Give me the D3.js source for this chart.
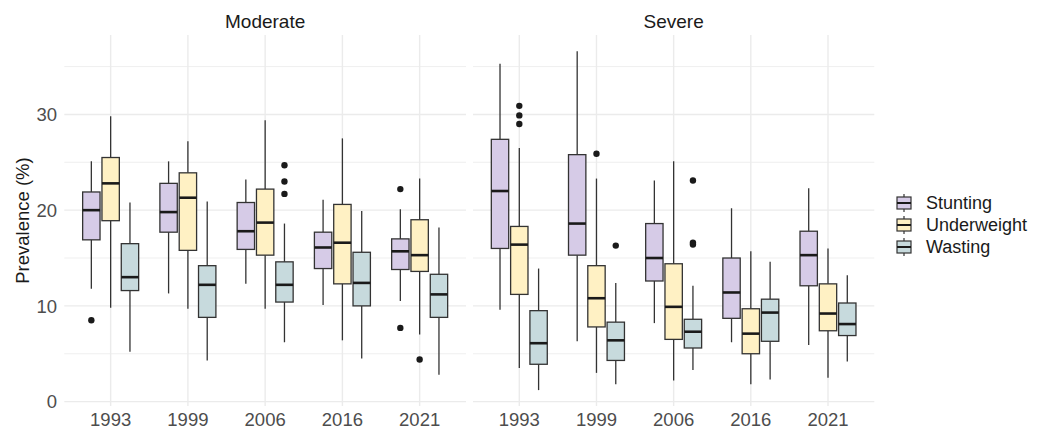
<!DOCTYPE html>
<html>
  <head>
    <title>Prevalence boxplots</title>
    <meta charset="utf-8" />
    <style>
      body { margin: 0; background: #fff; }
    </style>
  </head>
  <body>
    <div id="chart"></div>
    <script src="https://d3js.org/d3.v7.min.js"></script>
    <script type="text/javascript">
        const years = ["1993", "1999", "2006", "2016", "2021"];
        const series = ["Stunting", "Underweight", "Wasting"];
        const panels = ["Moderate", "Severe"];
        const yTicks = [0, 10, 20, 30];
        const yMinor = [5, 15, 25, 35];

        // box stats per year: [lower whisker, q1, median, q3, upper whisker]
        const moderateStunting = [[11.8, 16.9, 20.0, 21.9, 25.1], [11.3, 17.7, 19.8, 22.8, 25.1], [12.3, 15.9, 17.8, 20.8, 23.2], [10.1, 13.9, 16.1, 17.7, 21.1], [10.5, 13.8, 15.7, 17.0, 20.1]];
        const moderateUnderweight = [[9.8, 18.9, 22.8, 25.5, 29.8], [9.7, 15.8, 21.3, 23.9, 27.2], [9.7, 15.3, 18.7, 22.2, 29.4], [6.4, 12.3, 16.6, 20.6, 27.5], [7.0, 13.6, 15.3, 19.0, 23.3]];
        const moderateWasting = [[5.2, 11.6, 13.0, 16.5, 20.8], [4.3, 8.8, 12.2, 14.2, 20.9], [6.2, 10.4, 12.2, 14.6, 18.6], [4.5, 10.0, 12.4, 15.6, 19.9], [2.8, 8.8, 11.2, 13.3, 18.2]];
        const severeStunting = [[9.6, 16.0, 22.0, 27.4, 35.3], [6.3, 15.3, 18.6, 25.8, 36.6], [8.2, 12.6, 15.0, 18.6, 23.1], [6.2, 8.7, 11.4, 15.0, 20.2], [5.9, 12.1, 15.3, 17.8, 22.3]];
        const severeUnderweight = [[3.5, 11.2, 16.4, 18.3, 26.5], [3.0, 7.8, 10.8, 14.2, 23.3], [2.2, 6.5, 9.9, 14.4, 25.1], [1.8, 5.0, 7.1, 9.7, 15.7], [2.5, 7.4, 9.2, 12.3, 16.0]];
        const severeWasting = [[1.2, 3.9, 6.1, 9.5, 13.9], [1.8, 4.3, 6.4, 8.3, 12.4], [3.3, 5.6, 7.3, 8.6, 12.1], [2.3, 6.3, 9.3, 10.7, 14.6], [4.2, 6.9, 8.1, 10.3, 13.2]];

        // outliers per year
        const moderateStuntingOut = [[8.5], [], [], [], [22.2, 7.7]];
        const moderateUnderweightOut = [[], [], [], [], [4.4]];
        const moderateWastingOut = [[], [], [24.7, 23.0, 21.7], [], []];
        const severeStuntingOut = [[], [], [], [], []];
        const severeUnderweightOut = [[30.9, 29.9, 29.0], [25.9], [], [], []];
        const severeWastingOut = [[], [16.3], [23.1, 16.6, 16.4], [], []];

        const colors = ["#d6cbe7", "#fff1c4", "#c7dadd"];

        const width = 1037;
        const height = 430;
        const panelTop = 35, panelBottom = 406;
        const panelX = [[64.3, 466], [473, 874.3]];

        const stats = {
            Moderate: [moderateStunting, moderateUnderweight, moderateWasting],
            Severe: [severeStunting, severeUnderweight, severeWasting]
        };
        const outliers = {
            Moderate: [moderateStuntingOut, moderateUnderweightOut, moderateWastingOut],
            Severe: [severeStuntingOut, severeUnderweightOut, severeWastingOut]
        };

        const y = d3.scaleLinear()
            .domain([-0.46, 38.3])
            .range([panelBottom, panelTop]);

        const color = d3.scaleOrdinal().domain(series).range(colors);

        const svg = d3.select("#chart")
            .append("svg")
            .attr("width", width)
            .attr("height", height)
            .style("font-family", "Liberation Sans, Arial, sans-serif");

        panels.forEach((panel, pi) => {
            const [x0, x1] = panelX[pi];
            const x = d3.scaleBand()
                .domain(years)
                .range([x0, x1])
                .paddingInner(0)
                .paddingOuter(0.1);
            const dodge = d3.scaleBand()
                .domain(series)
                .range([-0.375 * x.step(), 0.375 * x.step()]);
            const boxW = dodge.bandwidth() * 0.9;

            const g = svg.append("g");

            // grid
            g.selectAll(".minor")
                .data(yMinor)
                .join("line")
                .attr("x1", x0).attr("x2", x1)
                .attr("y1", d => y(d)).attr("y2", d => y(d))
                .attr("stroke", "#ebebeb")
                .attr("stroke-width", 0.8);
            g.selectAll(".major")
                .data(yTicks)
                .join("line")
                .attr("x1", x0).attr("x2", x1)
                .attr("y1", d => y(d)).attr("y2", d => y(d))
                .attr("stroke", "#ebebeb")
                .attr("stroke-width", 1.4);
            g.selectAll(".vgrid")
                .data(years)
                .join("line")
                .attr("x1", d => x(d) + x.bandwidth() / 2)
                .attr("x2", d => x(d) + x.bandwidth() / 2)
                .attr("y1", panelTop).attr("y2", panelBottom)
                .attr("stroke", "#ebebeb")
                .attr("stroke-width", 1.4);

            // strip title
            svg.append("text")
                .attr("x", (x0 + x1) / 2)
                .attr("y", 27.5)
                .attr("text-anchor", "middle")
                .attr("font-size", 19)
                .attr("fill", "#1a1a1a")
                .text(panel);

            // x axis labels
            svg.append("g")
                .selectAll("text")
                .data(years)
                .join("text")
                .attr("x", d => x(d) + x.bandwidth() / 2)
                .attr("y", 426)
                .attr("text-anchor", "middle")
                .attr("font-size", 18.5)
                .attr("fill", "#4d4d4d")
                .text(d => d);

            // boxes
            series.forEach((s, si) => {
                const sg = g.append("g");
                years.forEach((yr, yi) => {
                    const [lo, q1, med, q3, hi] = stats[panel][si][yi];
                    const cx = x(yr) + x.bandwidth() / 2 + dodge(s) + dodge.bandwidth() / 2;
                    const bg = sg.append("g");
                    bg.append("line")
                        .attr("x1", cx).attr("x2", cx)
                        .attr("y1", y(hi)).attr("y2", y(q3))
                        .attr("stroke", "#333").attr("stroke-width", 1.3);
                    bg.append("line")
                        .attr("x1", cx).attr("x2", cx)
                        .attr("y1", y(q1)).attr("y2", y(lo))
                        .attr("stroke", "#333").attr("stroke-width", 1.3);
                    bg.append("rect")
                        .attr("x", cx - boxW / 2)
                        .attr("y", y(q3))
                        .attr("width", boxW)
                        .attr("height", y(q1) - y(q3))
                        .attr("fill", color(s))
                        .attr("stroke", "#333")
                        .attr("stroke-width", 1.3);
                    bg.append("line")
                        .attr("x1", cx - boxW / 2).attr("x2", cx + boxW / 2)
                        .attr("y1", y(med)).attr("y2", y(med))
                        .attr("stroke", "#1a1a1a").attr("stroke-width", 2.6);
                    bg.selectAll("circle")
                        .data(outliers[panel][si][yi])
                        .join("circle")
                        .attr("cx", cx)
                        .attr("cy", d => y(d))
                        .attr("r", 3.2)
                        .attr("fill", "#1a1a1a");
                });
            });
        });

        // y axis labels
        svg.append("g")
            .selectAll("text")
            .data(yTicks)
            .join("text")
            .attr("x", 57)
            .attr("y", d => y(d))
            .attr("dy", "0.36em")
            .attr("text-anchor", "end")
            .attr("font-size", 18.5)
            .attr("fill", "#4d4d4d")
            .text(d => d);

        svg.append("text")
            .attr("transform", `translate(29,${(panelTop + panelBottom) / 2}) rotate(-90)`)
            .attr("text-anchor", "middle")
            .attr("font-size", 18.5)
            .attr("fill", "#1a1a1a")
            .text("Prevalence (%)");

        // legend
        const legend = svg.append("g")
            .attr("transform", "translate(897,203)");
        const item = legend.selectAll("g")
            .data(series)
            .join("g")
            .attr("transform", (d, i) => `translate(0,${i * 22})`);
        item.append("line")
            .attr("x1", 7).attr("x2", 7)
            .attr("y1", -9).attr("y2", 9)
            .attr("stroke", "#333").attr("stroke-width", 1.2);
        item.append("rect")
            .attr("x", 0).attr("y", -6)
            .attr("width", 14).attr("height", 12)
            .attr("fill", d => color(d))
            .attr("stroke", "#333")
            .attr("stroke-width", 1.2);
        item.append("line")
            .attr("x1", 0).attr("x2", 14)
            .attr("y1", 0).attr("y2", 0)
            .attr("stroke", "#1a1a1a").attr("stroke-width", 2);
        item.append("text")
            .attr("x", 29)
            .attr("y", 0)
            .attr("dy", "0.36em")
            .attr("font-size", 18)
            .attr("fill", "#1a1a1a")
            .text(d => d);
    </script>
  </body>
</html>
